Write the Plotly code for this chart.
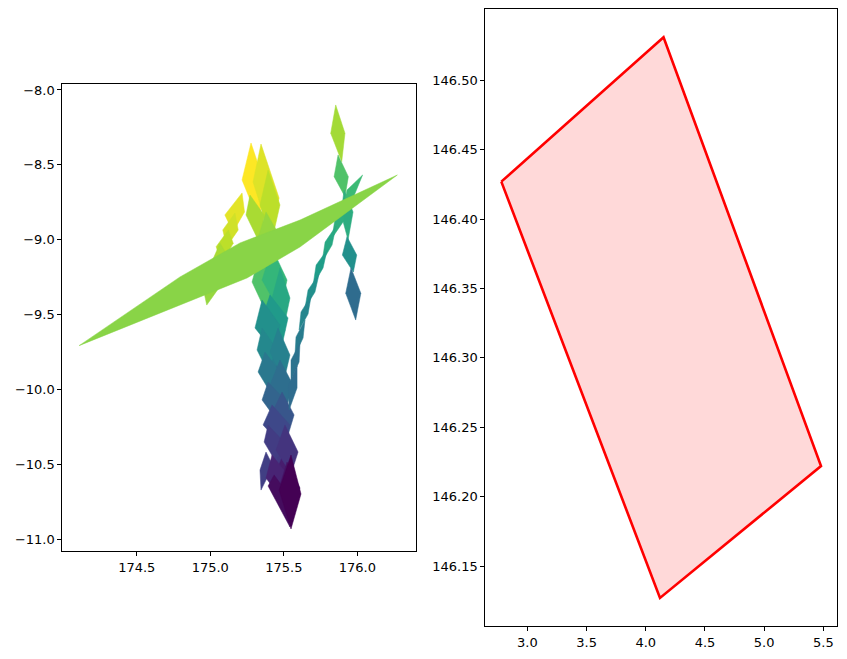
import plotly.graph_objects as go
from plotly.colors import sample_colorscale

# ---------------- left panel: polygons (lon / lat vertex lists) + value ----------------
core_lon = [
    [175.420, 175.495, 175.420, 175.345],
    [175.434, 175.508, 175.434, 175.359],
    [175.447, 175.522, 175.447, 175.372],
    [175.461, 175.536, 175.461, 175.386],
    [175.474, 175.549, 175.474, 175.400],
    [175.488, 175.563, 175.488, 175.413],
    [175.502, 175.576, 175.502, 175.427],
]
core_lat = [
    [-9.216, -9.403, -9.590, -9.403],
    [-9.416, -9.604, -9.791, -9.604],
    [-9.617, -9.804, -9.991, -9.804],
    [-9.817, -10.004, -10.191, -10.004],
    [-10.018, -10.205, -10.392, -10.205],
    [-10.218, -10.405, -10.592, -10.405],
    [-10.419, -10.606, -10.793, -10.606],
]
core_val = [0.55, 0.48, 0.42, 0.35, 0.25, 0.17, 0.08]

main_lon = [
    [175.277, 175.366, 175.332, 175.216],
    [175.345, 175.468, 175.406, 175.291],
    [175.393, 175.474, 175.420, 175.338],
    [175.270, 175.366, 175.352, 175.243],
    [175.379, 175.488, 175.434, 175.325],
    [175.352, 175.434, 175.379, 175.284],
    [175.420, 175.522, 175.474, 175.352],
    [175.474, 175.542, 175.502, 175.420],
    [175.406, 175.529, 175.488, 175.352],
    [175.352, 175.474, 175.434, 175.304],
    [175.352, 175.447, 175.393, 175.318],
    [175.461, 175.542, 175.502, 175.406],
    [175.372, 175.474, 175.420, 175.325],
    [175.474, 175.563, 175.515, 175.406],
    [175.393, 175.508, 175.461, 175.352],
    [175.488, 175.570, 175.529, 175.420],
    [175.420, 175.542, 175.502, 175.359],
    [175.393, 175.502, 175.447, 175.366],
    [175.508, 175.597, 175.549, 175.447],
    [175.379, 175.427, 175.345, 175.338],
    [175.420, 175.542, 175.488, 175.379],
    [175.522, 175.610, 175.576, 175.474],
    [175.434, 175.529, 175.542, 175.393],
    [175.549, 175.617, 175.549, 175.468],
]
main_lat = [
    [-8.354, -8.615, -8.882, -8.601],
    [-8.361, -8.722, -8.975, -8.615],
    [-8.535, -8.768, -9.002, -8.768],
    [-8.702, -8.835, -9.056, -8.835],
    [-8.815, -9.002, -9.189, -8.989],
    [-9.036, -9.236, -9.483, -9.283],
    [-9.056, -9.270, -9.483, -9.270],
    [-9.189, -9.390, -9.577, -9.390],
    [-9.370, -9.523, -9.704, -9.523],
    [-9.403, -9.570, -9.751, -9.590],
    [-9.590, -9.724, -9.884, -9.737],
    [-9.590, -9.771, -9.937, -9.751],
    [-9.751, -9.884, -10.038, -9.884],
    [-9.804, -9.971, -10.125, -9.971],
    [-9.951, -10.071, -10.218, -10.071],
    [-10.018, -10.171, -10.305, -10.158],
    [-10.104, -10.238, -10.392, -10.238],
    [-10.238, -10.352, -10.486, -10.352],
    [-10.238, -10.419, -10.566, -10.405],
    [-10.419, -10.512, -10.673, -10.539],
    [-10.439, -10.592, -10.739, -10.592],
    [-10.486, -10.659, -10.772, -10.639],
    [-10.572, -10.699, -10.920, -10.646],
    [-10.439, -10.699, -10.933, -10.673],
]
main_val = [1.0, 0.95, 0.90, 0.87, 0.84, 0.72, 0.66, 0.60, 0.54, 0.50, 0.47, 0.44,
            0.40, 0.36, 0.32, 0.27, 0.22, 0.18, 0.15, 0.19, 0.10, 0.05, 0.03, 0.0]

east_lon = [
    [175.853, 175.916, 175.894, 175.819],
    [175.869, 175.939, 175.916, 175.842],
    [175.910, 175.971, 175.937, 175.889],
    [175.930, 175.996, 175.973, 175.898],
    [175.957, 176.024, 175.989, 175.921],
]
east_lat = [
    [-8.100, -8.289, -8.479, -8.289],
    [-8.434, -8.579, -8.713, -8.579],
    [-8.668, -8.815, -9.002, -8.828],
    [-8.980, -9.103, -9.216, -9.103],
    [-9.189, -9.358, -9.537, -9.358],
]
east_val = [0.86, 0.72, 0.62, 0.50, 0.35]

diag_lon = [
    [176.036, 175.977, 175.896, 175.930],
    [175.923, 175.903, 175.828, 175.849],
    [175.855, 175.828, 175.760, 175.781],
    [175.794, 175.767, 175.699, 175.720],
    [175.740, 175.712, 175.644, 175.665],
    [175.686, 175.665, 175.604, 175.617],
    [175.644, 175.631, 175.576, 175.583],
    [175.610, 175.604, 175.549, 175.549],
    [175.590, 175.590, 175.536, 175.529],
]
diag_lat = [
    [-8.568, -8.708, -8.815, -8.668],
    [-8.748, -8.882, -8.989, -8.855],
    [-8.909, -9.036, -9.149, -9.016],
    [-9.069, -9.189, -9.303, -9.169],
    [-9.229, -9.350, -9.457, -9.336],
    [-9.376, -9.497, -9.604, -9.483],
    [-9.537, -9.657, -9.771, -9.650],
    [-9.690, -9.817, -9.937, -9.804],
    [-9.844, -9.991, -10.138, -9.978],
]
diag_val = [0.68, 0.63, 0.60, 0.55, 0.50, 0.46, 0.42, 0.38, 0.35]

west_lon = [
    [175.216, 175.233, 175.155, 175.099],
    [175.168, 175.190, 175.112, 175.085],
    [175.123, 175.156, 175.078, 175.040],
    [175.066, 175.122, 175.044, 175.006],
    [175.032, 175.076, 174.998, 174.961],
    [175.021, 175.065, 174.976, 174.949],
]
west_lat = [
    [-8.688, -8.815, -8.949, -8.835],
    [-8.822, -8.935, -9.047, -8.935],
    [-8.935, -9.024, -9.158, -9.047],
    [-9.024, -9.114, -9.247, -9.158],
    [-9.158, -9.247, -9.381, -9.292],
    [-9.247, -9.314, -9.437, -9.314],
]
west_val = [0.96, 0.93, 0.90, 0.87, 0.85, 0.84]

lens_lon = [[174.108, 174.794, 175.202, 175.610, 176.272, 175.610, 175.250, 174.794]]
lens_lat = [[-9.708, -9.249, -9.022, -8.869, -8.568, -9.049, -9.256, -9.437]]
lens_val = [0.82]

left_xticks = [174.5, 175.0, 175.5, 176.0]
left_yticks = [-11.0, -10.5, -10.0, -9.5, -9.0, -8.5, -8.0]

# ---------------- right panel: single polygon ----------------
quad_x = [2.78, 4.15, 5.48, 4.12]
quad_y = [146.427, 146.531, 146.222, 146.127]
right_xticks = [3.0, 3.5, 4.0, 4.5, 5.0, 5.5]
right_yticks = [146.15, 146.20, 146.25, 146.30, 146.35, 146.40, 146.45, 146.50]

fig = go.Figure()

groups = [(east_lon, east_lat, east_val), (core_lon, core_lat, core_val),
          (main_lon, main_lat, main_val),
          (diag_lon, diag_lat, diag_val), (west_lon, west_lat, west_val),
          (lens_lon, lens_lat, lens_val)]
for lons, lats, vals in groups:
    cols = sample_colorscale("Viridis", vals)
    for lo, la, c in zip(lons, lats, cols):
        fig.add_trace(go.Scatter(
            x=lo + [lo[0]], y=la + [la[0]], mode="lines", fill="toself",
            fillcolor=c, line=dict(width=0.5, color=c),
            xaxis="x", yaxis="y", showlegend=False, hoverinfo="skip"))

fig.add_trace(go.Scatter(
    x=quad_x + [quad_x[0]], y=quad_y + [quad_y[0]], mode="lines", fill="toself",
    fillcolor="rgba(255,0,0,0.15)", line=dict(width=2.6, color="red"),
    xaxis="x2", yaxis="y2", showlegend=False, hoverinfo="skip"))

ax = dict(showline=True, linecolor="black", linewidth=1, mirror=True, ticks="outside",
          ticklen=4, tickwidth=1, tickcolor="black", showgrid=False, zeroline=False,
          tickfont=dict(family="DejaVu Sans", size=13, color="black"), automargin=False)

fig.update_layout(
    width=847, height=659, margin=dict(l=0, r=0, t=0, b=0),
    paper_bgcolor="white", plot_bgcolor="white", showlegend=False,
    xaxis=dict(ax, domain=[0.0736, 0.4908], range=[173.994, 176.397],
               tickvals=left_xticks, ticktext=[f"{v:.1f}" for v in left_xticks]),
    yaxis=dict(ax, domain=[0.1639, 0.8721], range=[-11.080, -7.962],
               tickvals=left_yticks,
               ticktext=[f"{v:.1f}".replace("-", "\u2212") for v in left_yticks]),
    xaxis2=dict(ax, domain=[0.5730, 0.9882], range=[2.645, 5.615], anchor="y2",
                tickvals=right_xticks, ticktext=[f"{v:.1f}" for v in right_xticks]),
    yaxis2=dict(ax, domain=[0.0501, 0.9859], range=[146.1068, 146.5512], anchor="x2",
                tickvals=right_yticks, ticktext=[f"{v:.2f}" for v in right_yticks]),
)

fig.write_html("out.html", config={"displayModeBar": False},
               post_script="document.body.style.margin='0';document.body.style.overflow='hidden';")
